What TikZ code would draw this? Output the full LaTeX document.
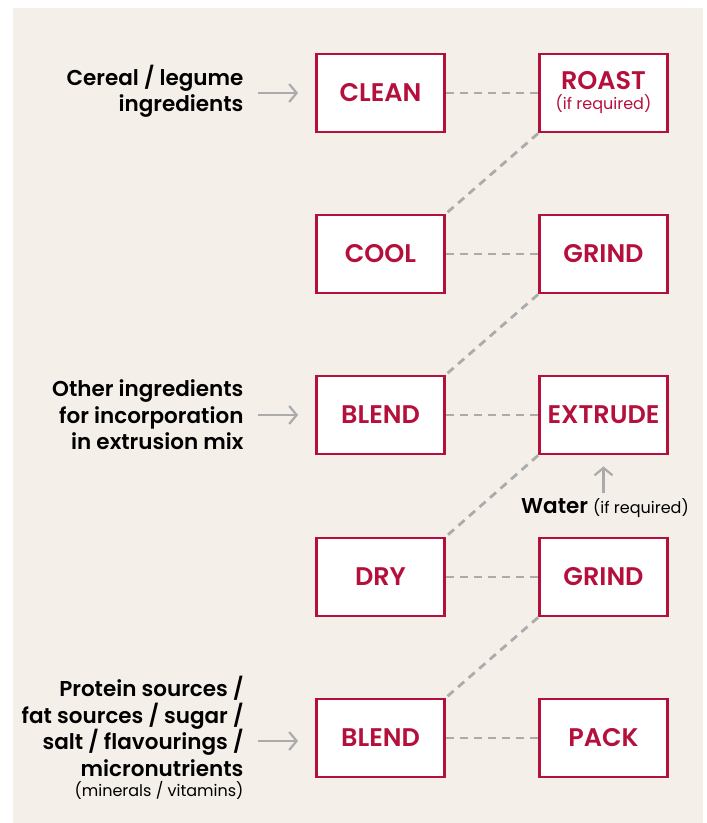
\documentclass[tikz,border=0pt]{standalone}
\usepackage{fontspec}
\setmainfont{Poppins}[BoldFont={Poppins SemiBold}]
\usetikzlibrary{arrows.meta}

\definecolor{paper}{HTML}{F4EFE9}
\definecolor{wine}{HTML}{B5103C}
\definecolor{mist}{HTML}{ABABAB}

\begin{document}
\begin{tikzpicture}[x=1pt, y=-1pt,
  stage/.style={draw=wine, line width=2.8pt, fill=white, minimum width=128pt,
    minimum height=78pt, inner sep=0pt, align=center, text=wine,
    font=\bfseries\fontsize{25.5}{28}\selectfont},
  feed/.style={align=right, anchor=east, font=\bfseries\fontsize{21.5}{26.5}\selectfont},
  note/.style={font=\fontsize{16}{18}\selectfont},
  link/.style={draw=mist, line width=2.8pt, dash pattern=on 8pt off 6pt},
  inlet/.style={draw=mist, line width=2.2pt, -{Straight Barb[length=7.5pt,width=18pt]}}]

  \useasboundingbox (0,0) rectangle (707,823);
  \fill[paper] (13,8) rectangle (703,823);

  % process steps, left column
  \node[stage] (clean) at (380.5,93) {CLEAN};
  \node[stage] (cool) at (380.5,254) {COOL};
  \node[stage] (blend) at (380.5,415) {BLEND};
  \node[stage] (dry) at (380.5,577) {DRY};
  \node[stage] (mix) at (380.5,738) {BLEND};

  % process steps, right column
  \node[stage] (roast) at (603.5,93) {ROAST\\[-8pt]{\mdseries\fontsize{16}{18}\selectfont(if required)}};
  \node[stage] (grind) at (603.5,254) {GRIND};
  \node[stage] (extrude) at (603.5,415) {EXTRUDE};
  \node[stage] (regrind) at (603.5,577) {GRIND};
  \node[stage] (pack) at (603.5,738) {PACK};

  % flow
  \draw[link] (clean.east) -- (roast.west);
  \draw[link] (roast.south west) -- (cool.north east);
  \draw[link] (cool.east) -- (grind.west);
  \draw[link] (grind.south west) -- (blend.north east);
  \draw[link] (blend.east) -- (extrude.west);
  \draw[link] (extrude.south west) -- (dry.north east);
  \draw[link] (dry.east) -- (regrind.west);
  \draw[link] (regrind.south west) -- (mix.north east);
  \draw[link] (mix.east) -- (pack.west);

  % inputs
  \node[feed] (cereal) at (247,91) {Cereal / legume\\ingredients};
  \node[feed] (other) at (247,415) {Other ingredients\\for incorporation\\in extrusion mix};
  \node[feed, anchor=north east] (protein) at (247,673)
    {Protein sources /\\fat sources / sugar /\\salt / flavourings /\\micronutrients};
  \node[note, anchor=north east, inner sep=0pt] (minerals) at ([xshift=-3.3pt,yshift=-1pt]protein.south east) {(minerals / vitamins)};
  \node[anchor=base east, inner sep=0pt] (water) at (689,513) {\bfseries\fontsize{21.5}{24}\selectfont Water {\mdseries\fontsize{16}{18}\selectfont(if required)}};

  \draw[inlet] ([xshift=-57pt]clean.west) -- ([xshift=-17pt]clean.west);
  \draw[inlet] ([xshift=-57pt]blend.west) -- ([xshift=-17pt]blend.west);
  \draw[inlet] ([xshift=-57pt,yshift=-3pt]mix.west) -- ([xshift=-17pt,yshift=-3pt]mix.west);
  \draw[inlet] ([yshift=-38pt]extrude.south) -- ([yshift=-11pt]extrude.south);
\end{tikzpicture}
\end{document}
